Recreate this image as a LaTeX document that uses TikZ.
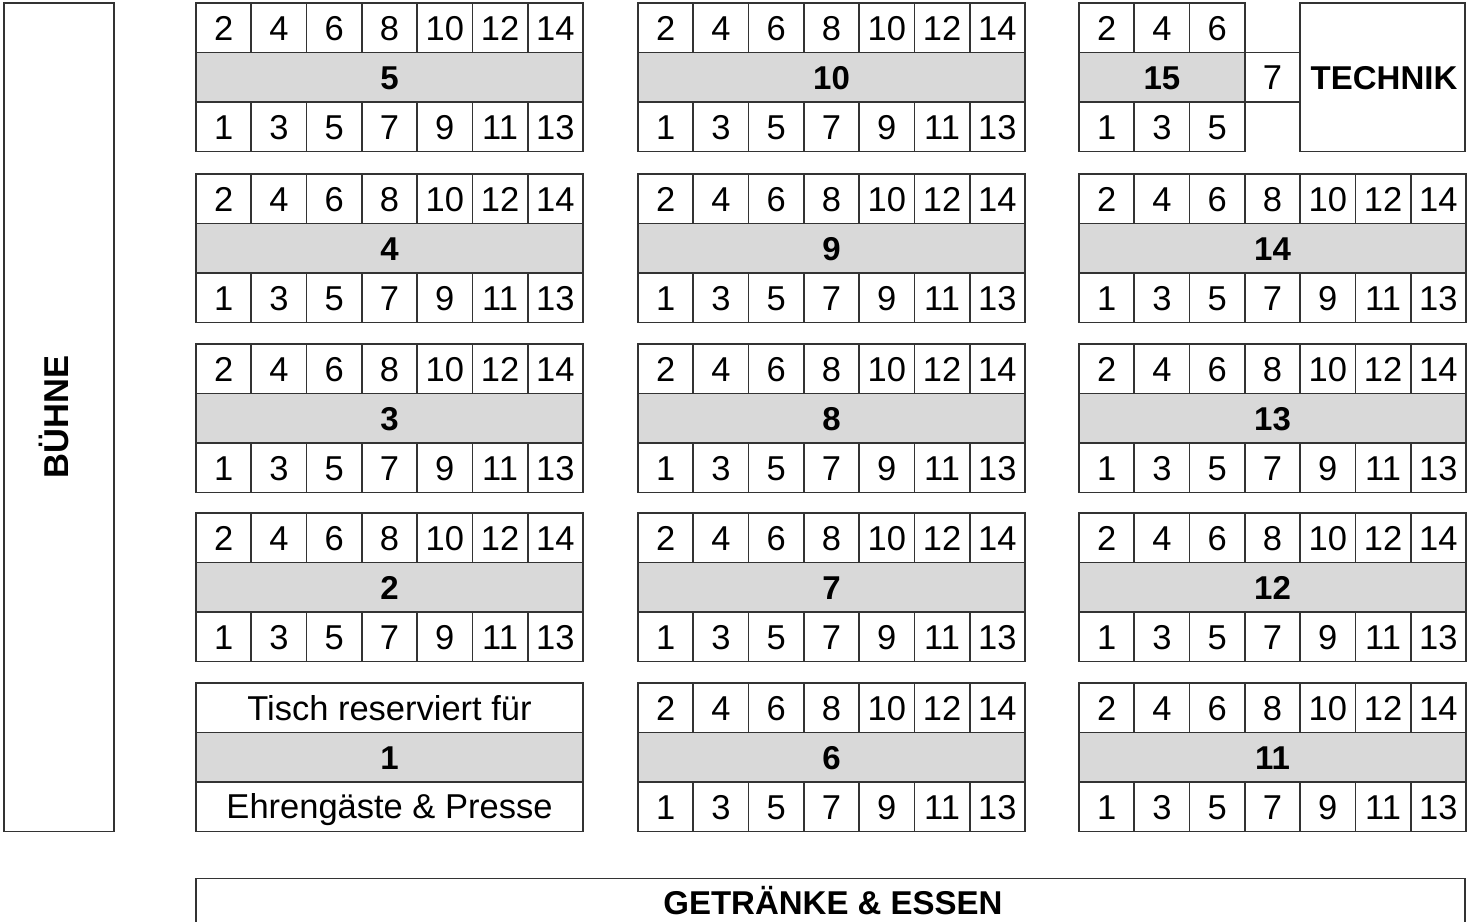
\documentclass[tikz,border=0pt]{standalone}
\usepackage{fontspec}
\setmainfont{Liberation Sans}
\definecolor{linecol}{HTML}{333333}
\definecolor{midfill}{HTML}{D9D9D9}
\tikzset{
  grid/.style={draw=linecol, line width=1.6pt},
  seat/.style={font=\fontsize{34.5}{38}\selectfont, text height=24.7pt, text depth=0pt, inner sep=0pt},
  tnum/.style={seat, font=\bfseries\fontsize{33}{36}\selectfont, text height=23.6pt},
}
\newcommand\stdtable[4]{%
  \fill[midfill] (#1,#2+49.5) rectangle ++(387,49.5);
  \draw[grid] (#1,#2) rectangle ++(387,148.5);
  \draw[grid] (#1,#2+49.5) -- ++(387,0) (#1,#2+99) -- ++(387,0);
  \foreach \i in {1,...,6} {
    \draw[grid] (#1+\i*55.2857,#2) -- ++(0,49.5) (#1+\i*55.2857,#2+99) -- ++(0,49.5);
  }
  \foreach \i in {0,...,6} {
    \pgfmathtruncatemacro\ev{2*\i+2}
    \pgfmathtruncatemacro\od{2*\i+1}
    \node[seat] (#4-s\ev) at (#1+\i*55.2857+27.64,#2+25.5) {\ev};
    \node[seat] (#4-s\od) at (#1+\i*55.2857+27.64,#2+124.5) {\od};
  }
  \node[tnum] (#4) at (#1+193.5,#2+74.25) {#3};
}
\begin{document}
\begin{tikzpicture}[x=1pt,y=-1pt]
\useasboundingbox (0,0) rectangle (1467,921);
\clip (0,0) rectangle (1467,921);
\fill[white] (0,0) rectangle (1467,921);
% stage
\draw[grid] (4,3) rectangle (114,831.5);
\node[tnum, font=\bfseries\fontsize{34.5}{38}\selectfont, rotate=90] (buehne) at (57,417) {BÜHNE};
% column A
\stdtable{196}{3}{5}{t5}
\stdtable{196}{174}{4}{t4}
\stdtable{196}{344}{3}{t3}
\stdtable{196}{513}{2}{t2}
% table 1
\fill[midfill] (196,683+49.5) rectangle ++(387,49.5);
\draw[grid] (196,683) rectangle ++(387,148.5);
\draw[grid] (196,732.5) -- ++(387,0) (196,782) -- ++(387,0);
\node[seat] (t1-top) at (389.5,708.25) {Tisch reserviert für};
\node[tnum] (t1) at (389.5,757.25) {1};
\node[seat] (t1-bot) at (389.5,806.25) {Ehrengäste \& Presse};
% column B
\stdtable{638}{3}{10}{t10}
\stdtable{638}{174}{9}{t9}
\stdtable{638}{344}{8}{t8}
\stdtable{638}{513}{7}{t7}
\stdtable{638}{683}{6}{t6}
% column C
\stdtable{1079}{174}{14}{t14}
\stdtable{1079}{344}{13}{t13}
\stdtable{1079}{513}{12}{t12}
\stdtable{1079}{683}{11}{t11}
% table 15
\fill[midfill] (1079,52.5) rectangle ++(165.86,49.5);
\draw[grid] (1079,3) rectangle ++(165.86,148.5);
\draw[grid] (1079,52.5) -- ++(165.86,0) (1079,102) -- ++(165.86,0);
\foreach \i in {1,2} {
  \draw[grid] (1079+\i*55.2857,3) -- ++(0,49.5) (1079+\i*55.2857,102) -- ++(0,49.5);
}
\foreach \i in {0,1,2} {
  \pgfmathtruncatemacro\ev{2*\i+2}
  \pgfmathtruncatemacro\od{2*\i+1}
  \node[seat] (t15-s\ev) at (1079+\i*55.2857+27.64,28.5) {\ev};
  \node[seat] (t15-s\od) at (1079+\i*55.2857+27.64,127.5) {\od};
}
\node[tnum] (t15) at (1161.93,77.25) {15};
\draw[grid] (1244.86,52.5) rectangle (1300,102);
\node[seat] (t15-s7) at (1272.43,77.25) {7};
% Technik
\draw[grid] (1300,3) rectangle (1465,151.5);
\node[tnum] (technik) at (1384,77.25) {TECHNIK};
% food & drinks
\draw[grid] (196,878.5) rectangle (1465,960);
\node[tnum] (getraenke) at (833,903) {GETRÄNKE \& ESSEN};
\end{tikzpicture}
\end{document}
